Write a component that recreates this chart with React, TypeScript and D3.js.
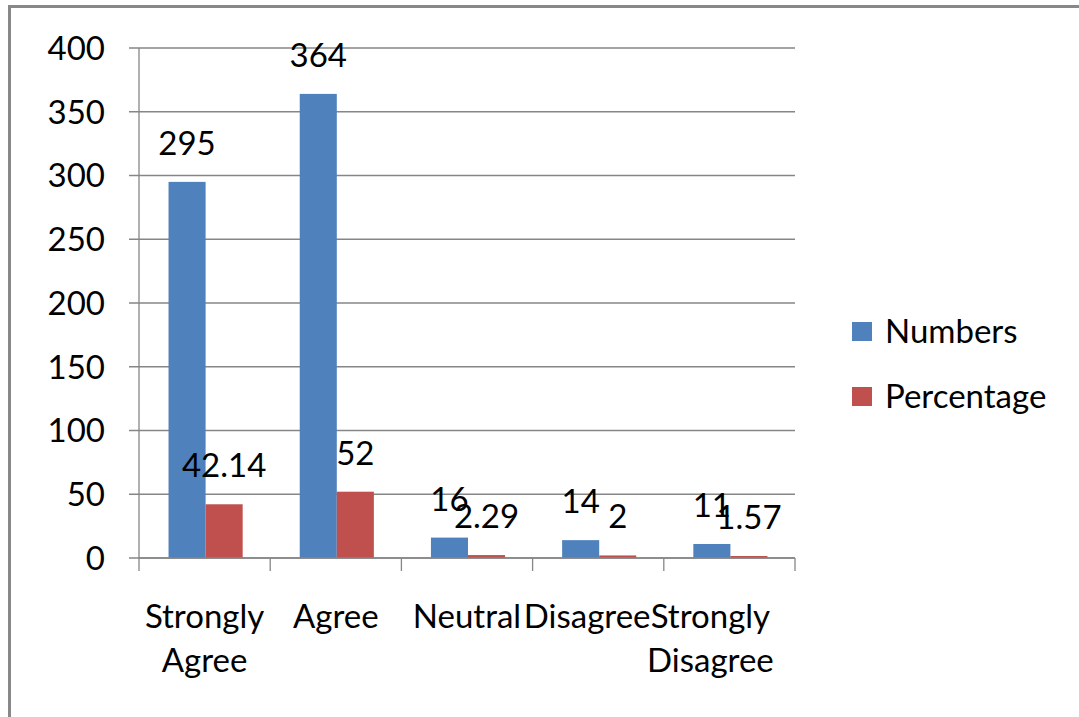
import React from "react";
import * as d3 from "d3";

const categories = ["Strongly Agree", "Agree", "Neutral", "Disagree", "Strongly Disagree"];
const numbers = [295, 364, 16, 14, 11];
const percentage = [42.14, 52, 2.29, 2, 1.57];
const percentageLabels = ["42.14", "52", "2.29", "2", "1.57"];
const yTicks = [0, 50, 100, 150, 200, 250, 300, 350, 400];
const seriesNames = ["Numbers", "Percentage"];
const seriesColors = ["#4F81BD", "#C0504D"];

const W = 1079;
const H = 717;
const left = 139;
const right = 795;
const top = 48;
const bottom = 558;
const FONT = "Lato, 'Open Sans', sans-serif";
const FS = 33;
// horizontal nudges of the category labels (Excel-like overflow layout)
const labelShift = [0, 0, 0, -11, -19];

export default function App() {
  const x = d3.scaleBand<string>().domain(categories).range([left, right]).paddingInner(0).paddingOuter(0);
  const y = d3.scaleLinear().domain([0, 400]).range([bottom, top]);
  const bw = x.bandwidth();
  const barW = bw * 0.2825;
  const inner = d3.scaleBand<string>().domain(seriesNames).range([bw / 2 - barW + 1, bw / 2 + barW + 1]);
  const series = [numbers, percentage];
  const labels = [numbers.map(String), percentageLabels];

  return (
    <svg width={W} height={H} style={{ position: "absolute", left: 0, top: 0 }} fontFamily={FONT}>
      <rect x={0} y={0} width={W} height={H} fill="#fff" />
      <rect x={9.5} y={6.5} width={W + 20} height={H + 20} fill="none" stroke="#888" strokeWidth={3} />
      {yTicks.map((t) => (
        <line key={"g" + t} x1={left - 10} x2={right} y1={y(t)} y2={y(t)} stroke="#868686" strokeWidth={1.3} />
      ))}
      <line x1={left} x2={left} y1={top} y2={bottom} stroke="#868686" strokeWidth={1.3} />
      {yTicks.map((t) => (
        <text key={"yl" + t} x={105} y={y(t)} dy="0.36em" textAnchor="end" fontSize={FS} fill="#000">
          {t}
        </text>
      ))}
      {series.map((vals, si) =>
        vals.map((v, i) => (
          <rect
            key={"b" + si + "-" + i}
            x={(x(categories[i]) as number) + (inner(seriesNames[si]) as number)}
            y={y(v)}
            width={inner.bandwidth()}
            height={bottom - y(v)}
            fill={seriesColors[si]}
          />
        ))
      )}
      <line x1={left} x2={right} y1={bottom} y2={bottom} stroke="#868686" strokeWidth={1.3} />
      {categories.map((c, i) => (
        <line key={"xt" + i} x1={x(c)} x2={x(c)} y1={bottom} y2={bottom + 13} stroke="#868686" strokeWidth={1.3} />
      ))}
      <line x1={right} x2={right} y1={bottom} y2={bottom + 13} stroke="#868686" strokeWidth={1.3} />
      {series.map((vals, si) =>
        vals.map((v, i) => (
          <text
            key={"dl" + si + "-" + i}
            x={(x(categories[i]) as number) + (inner(seriesNames[si]) as number) + inner.bandwidth() / 2}
            y={y(v) - 27}
            textAnchor="middle"
            fontSize={FS}
            fill="#000"
          >
            {labels[si][i]}
          </text>
        ))
      )}
      {categories.map((c, i) => {
        const words = c.split(" ");
        const cx = (x(c) as number) + bw / 2 + labelShift[i];
        return (
          <text key={"cl" + i} x={cx} y={628} textAnchor="middle" fontSize={FS} fill="#000">
            {words.map((w, k) => (
              <tspan key={k} x={cx} y={628 + k * 44}>
                {w}
              </tspan>
            ))}
          </text>
        );
      })}
      {seriesNames.map((s, i) => (
        <g key={"lg" + i} transform={`translate(852, ${322 + i * 65})`}>
          <rect x={0} y={0} width={20} height={19} fill={seriesColors[i]} />
          <text x={33} y={21} fontSize={FS} fill="#000">
            {s}
          </text>
        </g>
      ))}
    </svg>
  );
}
